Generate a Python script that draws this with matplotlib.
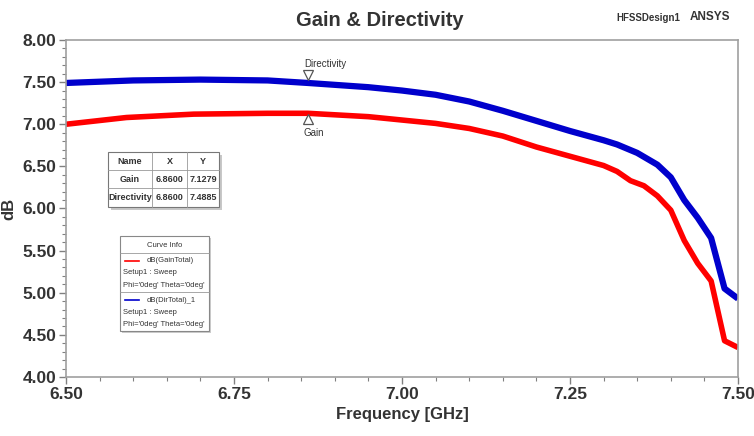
import numpy as np
import matplotlib
matplotlib.use('Agg')
from matplotlib import pyplot as plt
from matplotlib.patches import Rectangle
from matplotlib.ticker import MultipleLocator, FormatStrFormatter

plt.rcParams['font.family'] = ['Liberation Sans', 'DejaVu Sans']

# 数据
freq_dir = [6.50, 6.60, 6.70, 6.80, 6.86, 6.95, 7.00, 7.05, 7.10, 7.15, 7.20,
            7.25, 7.30, 7.32, 7.35, 7.38, 7.40, 7.42, 7.44, 7.46, 7.48, 7.50]
dir_total = [7.49, 7.52, 7.53, 7.52, 7.49, 7.44, 7.40, 7.35, 7.27, 7.16, 7.04,
             6.92, 6.81, 6.76, 6.66, 6.52, 6.37, 6.10, 5.89, 5.65, 5.05, 4.93]

freq_gain = [6.50, 6.59, 6.69, 6.80, 6.86, 6.95, 7.00, 7.05, 7.10, 7.15, 7.20,
             7.25, 7.30, 7.32, 7.34, 7.36, 7.38, 7.40, 7.42, 7.44, 7.46, 7.48, 7.50]
gain_total = [7.00, 7.08, 7.12, 7.13, 7.13, 7.09, 7.05, 7.01, 6.95, 6.86, 6.73,
              6.62, 6.51, 6.44, 6.33, 6.27, 6.15, 5.98, 5.62, 5.35, 5.14, 4.43, 4.35]

marker_x = 6.86
marker_gain = 7.1279
marker_dir = 7.4885

table_rows = [['Name', 'X', 'Y'],
              ['Gain', '6.8600', '7.1279'],
              ['Directivity', '6.8600', '7.4885']]

W, H = 754, 436
fig = plt.figure(figsize=(W / 100, H / 100), dpi=100)
ax = fig.add_axes([66 / W, 1 - 377 / H, (738 - 66) / W, (377 - 40) / H])


def fx(x):
    return x / W


def fy(y):
    return 1 - y / H


ax.plot(freq_gain, gain_total, color='#ff0000', lw=4.0, solid_capstyle='butt')
ax.plot(freq_dir, dir_total, color='#0000cc', lw=4.5, solid_capstyle='butt')

ax.set_xlim(6.5, 7.5)
ax.set_ylim(4.0, 8.0)
ax.xaxis.set_major_locator(MultipleLocator(0.25))
ax.xaxis.set_minor_locator(MultipleLocator(0.05))
ax.yaxis.set_major_locator(MultipleLocator(0.5))
ax.yaxis.set_minor_locator(MultipleLocator(0.1))
ax.xaxis.set_major_formatter(FormatStrFormatter('%.2f'))
ax.yaxis.set_major_formatter(FormatStrFormatter('%.2f'))
for s in ax.spines.values():
    s.set_color('#a0a0a0')
    s.set_linewidth(1.2)
ax.tick_params(which='major', length=5, width=1, color='#808080', labelsize=12.5, pad=2)
ax.tick_params(which='minor', length=3, width=0.8, color='#808080')
for lab in ax.get_xticklabels() + ax.get_yticklabels():
    lab.set_fontweight('bold')
    lab.set_color('#333333')

ax.set_xlabel('Frequency [GHz]', fontsize=12, fontweight='bold', color='#333333', labelpad=4)
ax.set_ylabel('dB', fontsize=12, fontweight='bold', color='#333333', labelpad=4)

fig.text(fx(380), fy(20), 'Gain & Directivity', ha='center', va='center',
         fontsize=14.5, fontweight='bold', color='#333333')
fig.text(fx(680), fy(18), 'HFSSDesign1', ha='right', va='center',
         fontsize=7, fontweight='bold', color='#333333')
fig.text(fx(690), fy(17), 'ANSYS', ha='left', va='center',
         fontsize=8.5, fontweight='bold', color='#333333')

# 标记
ax.annotate('', (marker_x, marker_dir), xytext=(0, 0), textcoords='offset points')
ax.plot([marker_x], [marker_dir + 0.1], marker='v', ms=7, mfc='white', mec='#555555',
        mew=0.9, linestyle='none')
ax.annotate('Directivity', (marker_x, marker_dir), xytext=(-3, 10), textcoords='offset points',
            ha='left', va='bottom', fontsize=7, color='#333333')
ax.plot([marker_x], [marker_gain - 0.07], marker='^', ms=7, mfc='white', mec='#555555',
        mew=0.9, linestyle='none')
ax.annotate('Gain', (marker_x, marker_gain), xytext=(-3, -14), textcoords='offset points',
            ha='left', va='center', fontsize=7, color='#333333')

# 标记数据表
col_x = [108, 152, 187, 219]
row_y = [152, 170, 188, 207]
fig.patches.append(Rectangle((fx(col_x[0] + 3), fy(row_y[-1] + 3)),
                             fx(col_x[-1] - col_x[0]), fy(row_y[0]) - fy(row_y[-1]),
                             transform=fig.transFigure, facecolor='#c8c8c8', edgecolor='none'))
fig.patches.append(Rectangle((fx(col_x[0]), fy(row_y[-1])),
                             fx(col_x[-1] - col_x[0]), fy(row_y[0]) - fy(row_y[-1]),
                             transform=fig.transFigure, facecolor='white', edgecolor='#777777', lw=0.8))
for i in range(1, 3):
    fig.lines.append(plt.Line2D([fx(col_x[0]), fx(col_x[-1])], [fy(row_y[i])] * 2,
                                transform=fig.transFigure, color='#999999', lw=0.6))
for j in range(1, 3):
    fig.lines.append(plt.Line2D([fx(col_x[j])] * 2, [fy(row_y[0]), fy(row_y[-1])],
                                transform=fig.transFigure, color='#999999', lw=0.6))
for i, row in enumerate(table_rows):
    for j, txt in enumerate(row):
        fig.text(fx((col_x[j] + col_x[j + 1]) / 2), fy((row_y[i] + row_y[i + 1]) / 2), txt,
                 ha='center', va='center', fontsize=6.5, fontweight='bold', color='#333333')

# Curve Info 图例框
bx0, bx1, by0, by1 = 120, 209, 236, 331
fig.patches.append(Rectangle((fx(bx0 + 2), fy(by1 + 2)), fx(bx1 - bx0), fy(by0) - fy(by1),
                             transform=fig.transFigure, facecolor='#cccccc', edgecolor='none'))
fig.patches.append(Rectangle((fx(bx0), fy(by1)), fx(bx1 - bx0), fy(by0) - fy(by1),
                             transform=fig.transFigure, facecolor='white', edgecolor='#888888', lw=0.8))
fig.text(fx((bx0 + bx1) / 2), fy(245), 'Curve Info', ha='center', va='center',
         fontsize=5.5, color='#333333')
for yline in [253, 292]:
    fig.lines.append(plt.Line2D([fx(bx0), fx(bx1)], [fy(yline)] * 2,
                                transform=fig.transFigure, color='#999999', lw=0.6))
entries = [('dB(GainTotal)', '#ff0000', 261), ('dB(DirTotal)_1', '#0000cc', 300)]
for name, c, y0 in entries:
    fig.lines.append(plt.Line2D([fx(125), fx(139)], [fy(y0)] * 2,
                                transform=fig.transFigure, color=c, lw=1.2))
    fig.text(fx(147), fy(y0), name, ha='left', va='center', fontsize=5.5, color='#333333')
    fig.text(fx(123), fy(y0 + 12), 'Setup1 : Sweep', ha='left', va='center',
             fontsize=5.5, color='#333333')
    fig.text(fx(123), fy(y0 + 24), "Phi='0deg' Theta='0deg'", ha='left', va='center',
             fontsize=5.5, color='#333333')

fig.savefig('out.png', dpi=100, facecolor='white')
